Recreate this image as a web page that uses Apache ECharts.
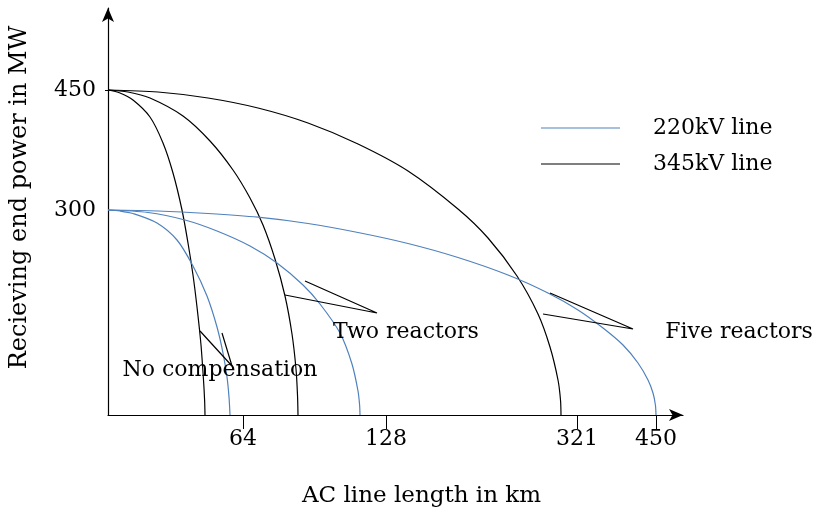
<!DOCTYPE html>
<html><head><meta charset="utf-8">
<script src="https://cdn.jsdelivr.net/npm/echarts@6/dist/echarts.min.js"></script>
<style>html,body{margin:0;padding:0;background:#fff}#c{width:815px;height:510px}</style>
</head><body><div id="c"></div>
<script>
// Schematic units (the reference figure is a sketch, not to scale)
const xTickPos = [135, 278, 469, 548];
const xTickLabels = ['64', '128', '321', '450'];
const yTickPos = [205, 325];
const yTickLabels = ['300', '450'];

// 345 kV line curves
const kv345NoComp = [[0,325],[12,322],[25,315],[42,298],[55,272],[65,242],[74,205],[80,172],[85,140],[89,108],[93,70],[95.5,35],[96.6,15],[97,0]];
const kv345Two = [[0,325],[20,323],[42,317],[75,299],[102,274],[125,245],[142,217],[155,190],[167,156],[177,119],[184,81],[188,46],[189.5,20],[190,0]];
const kv345Five = [[0,325],[50,323],[100,317],[150,307],[200,292],[250,271],[300,244],[350,206],[380,177],[409,139],[430,101],[442,68],[450,35],[452.5,15],[453,0]];
// 220 kV line curves
const kv220NoComp = [[0,205],[12,204],[25,201.5],[49,192],[69,175],[85,149],[99,119],[109,88],[115,62],[119,38],[121,18],[122,0]];
const kv220Two = [[0,205],[40,202.5],[77,195],[109,184],[142,169],[169,152],[195,130],[212,111],[232,82],[244,51],[250,24],[251.6,10],[252,0]];
const kv220Five = [[0,205],[50,204],[100,201.5],[150,197.8],[200,191.5],[250,182.5],[300,171.5],[350,157.5],[400,140],[440,122],[470,105],[495,87],[515,70],[530,52],[540,35],[545,22],[547.4,10],[548,0]];

// annotation pointers (each a V shape) and labels
const ptrNoComp = [[92,84],[124,49],[114,82]];
const ptrTwo = [[177,120],[269,102],[197,134]];
const ptrFive = [[435,101],[525,86],[442,122]];
const noteLabels = ['No compensation', 'Two reactors', 'Five reactors'];
const notePos = [[112,45],[298,83],[631,83]];

const FONT = 'DejaVu Serif';
const BLUE = '#4f81bd';
const BLACK = '#000000';

function curve(name, data, color) {
  return { name: name, type: 'line', data: data, symbol: 'none', smooth: 0.3,
    lineStyle: { color: color, width: 1.2 }, itemStyle: { color: color }, silent: true, z: 3 };
}
function ptr(data) {
  return { type: 'line', data: data, symbol: 'none', smooth: false,
    lineStyle: { color: BLACK, width: 1.2 }, silent: true, z: 4 };
}

const chart = echarts.init(document.getElementById('c'), null, { renderer: 'canvas' });
chart.setOption({
  animation: false,
  backgroundColor: '#fff',
  grid: { left: 108, top: 8, width: 575, height: 407, containLabel: false, outerBoundsMode: 'none' },
  legend: {
    data: ['220kV line', '345kV line'],
    orient: 'vertical', left: 541, top: 116, padding: 0,
    icon: 'rect', itemWidth: 79, itemHeight: 1.2, itemGap: 12,
    selectedMode: false,
    textStyle: { fontFamily: FONT, fontSize: 22, color: '#000', lineHeight: 24, padding: [0,0,0,28] }
  },
  xAxis: {
    type: 'value', min: 0, max: 575,
    name: 'AC line length in km', nameLocation: 'middle', nameGap: 70,
    nameTextStyle: { fontFamily: FONT, fontSize: 23, color: '#000', padding: [0,0,0,52] },
    axisLine: { show: true, lineStyle: { color: '#000', width: 1.2 }, symbol: ['none', 'arrow'], symbolSize: [9, 14] },
    axisTick: { show: true, inside: false, length: 14, customValues: xTickPos, lineStyle: { color: '#000' } },
    axisLabel: { customValues: xTickPos, margin: 13, fontFamily: FONT, fontSize: 22, color: '#000',
      formatter: function (v) { const i = xTickPos.indexOf(v); return i >= 0 ? xTickLabels[i] : ''; } },
    splitLine: { show: false }
  },
  yAxis: {
    type: 'value', min: 0, max: 407,
    name: 'Recieving end power in MW', nameLocation: 'middle', nameGap: 76,
    nameTextStyle: { fontFamily: FONT, fontSize: 24, color: '#000', padding: [0,0,0,28] },
    axisLine: { show: true, lineStyle: { color: '#000', width: 1.2 }, symbol: ['none', 'arrow'], symbolSize: [9, 14] },
    axisTick: { show: true, length: 3, customValues: [yTickPos[1]], lineStyle: { color: '#000' } },
    axisLabel: { customValues: yTickPos, margin: 12, fontFamily: FONT, fontSize: 22, color: '#000',
      formatter: function (v) { const i = yTickPos.indexOf(v); return i >= 0 ? yTickLabels[i] : ''; } },
    splitLine: { show: false }
  },
  series: [
    curve('345kV line', kv345NoComp, BLACK),
    curve('345kV line', kv345Two, BLACK),
    curve('345kV line', kv345Five, BLACK),
    curve('220kV line', kv220NoComp, BLUE),
    curve('220kV line', kv220Two, BLUE),
    curve('220kV line', kv220Five, BLUE),
    ptr(ptrNoComp), ptr(ptrTwo), ptr(ptrFive),
    { type: 'scatter', symbolSize: 0, clip: false, silent: true, z: 5,
      itemStyle: { color: '#000', opacity: 1 },
      data: notePos.map(function (p, i) { return { value: p, name: noteLabels[i] }; }),
      label: { show: true, position: [0, 0], align: 'center', verticalAlign: 'middle', formatter: '{b}',
        fontFamily: FONT, fontSize: 22, color: '#000', textBorderWidth: 0, opacity: 1 } }
  ]
});
</script></body></html>
